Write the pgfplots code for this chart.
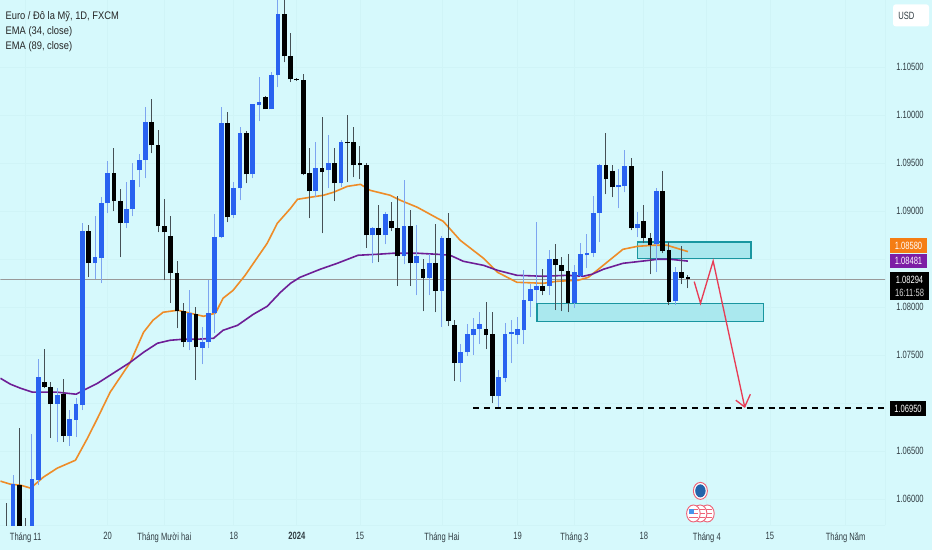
\documentclass[border=0pt]{standalone}
\usepackage{pgfplots}
\usepackage{pgfplotstable}
\usepackage{fontspec}
\pgfplotsset{compat=1.18}
\setmainfont{Liberation Sans}
\newfontfamily\legfont[FakeStretch=0.85]{Liberation Sans}
\newfontfamily\axfont[FakeStretch=0.72]{Liberation Sans}
\definecolor{bgc}{RGB}{214,249,252}
\definecolor{gridc}{RGB}{208,244,247}
\definecolor{upc}{RGB}{41,98,240}
\definecolor{upw}{RGB}{125,165,240}
\definecolor{dnc}{RGB}{0,0,0}
\definecolor{dnw}{RGB}{70,80,85}
\definecolor{ema1}{RGB}{238,140,40}
\definecolor{ema2}{RGB}{110,30,150}
\definecolor{tagO}{RGB}{245,125,20}
\definecolor{tagP}{RGB}{125,30,165}
\definecolor{zonef}{RGB}{170,232,238}
\definecolor{zonee}{RGB}{25,150,160}
\definecolor{redl}{RGB}{232,60,85}
\definecolor{txtc}{RGB}{48,60,66}
\definecolor{eub}{RGB}{35,100,170}
\definecolor{usb}{RGB}{70,150,235}
\pgfplotstableread{
i o h l c
1 1.05677 1.06250 1.05625 1.06156
4 1.05677 1.06677 1.05625 1.06208
5 1.06198 1.07458 1.06146 1.07271
8 1.06990 1.07156 1.06594 1.07083
10 1.06656 1.06927 1.06552 1.06833
11 1.06823 1.07052 1.06646 1.06990
12 1.06979 1.08875 1.06927 1.08792
14 1.08458 1.08948 1.08292 1.08521
15 1.08510 1.09146 1.08250 1.09083
16 1.09083 1.09521 1.08979 1.09396
19 1.08875 1.09302 1.08823 1.09021
20 1.09021 1.09500 1.08948 1.09323
21 1.09427 1.09594 1.09250 1.09531
22 1.09531 1.10083 1.09344 1.09927
29 1.07635 1.08177 1.07552 1.07938
31 1.07573 1.07792 1.07406 1.07635
32 1.07635 1.08281 1.07573 1.07938
33 1.07938 1.08969 1.07729 1.08729
34 1.08729 1.10083 1.08719 1.09917
36 1.08958 1.09302 1.08927 1.09240
37 1.09240 1.09875 1.09115 1.09813
39 1.09385 1.10115 1.09344 1.10115
40 1.10104 1.10396 1.09938 1.10136
42 1.10063 1.10448 1.10063 1.10417
43 1.10417 1.11250 1.10292 1.11052
49 1.09208 1.09719 1.09146 1.09448
51 1.09427 1.09792 1.09240 1.09500
53 1.09292 1.09740 1.09250 1.09719
58 1.08750 1.08833 1.08458 1.08823
60 1.08750 1.08990 1.08656 1.08969
63 1.08531 1.09323 1.08448 1.08844
65 1.08458 1.08854 1.08125 1.08531
67 1.08302 1.08552 1.08125 1.08458
69 1.08167 1.08740 1.07792 1.08719
72 1.07417 1.07615 1.07219 1.07531
73 1.07531 1.07823 1.07490 1.07719
74 1.07708 1.07885 1.07500 1.07771
75 1.07771 1.07948 1.07615 1.07823
78 1.07073 1.07344 1.06958 1.07271
79 1.07260 1.07833 1.07219 1.07719
80 1.07719 1.07865 1.07417 1.07740
81 1.07708 1.07896 1.07615 1.07771
82 1.07760 1.08385 1.07615 1.08073
83 1.08063 1.08240 1.07896 1.08188
84 1.08177 1.08885 1.08042 1.08219
86 1.08219 1.08594 1.08125 1.08500
90 1.08042 1.08437 1.07990 1.08365
91 1.08323 1.08667 1.08313 1.08552
92 1.08542 1.08761 1.08406 1.08563
93 1.08563 1.09156 1.08521 1.08979
94 1.08979 1.09490 1.08677 1.09479
97 1.09250 1.09437 1.09031 1.09271
98 1.09260 1.09635 1.09198 1.09469
100 1.08823 1.08990 1.08729 1.08865
103 1.08656 1.09240 1.08365 1.09208
106 1.08063 1.08417 1.08021 1.08365
}\upT
\pgfplotstableread{
i o h l c
0 1.05677 1.05959 1.05625 1.05573
2 1.06146 1.06740 1.05573 1.05625
3 1.05719 1.05802 1.05625 1.05677
6 1.07219 1.07562 1.07156 1.07167
7 1.07167 1.07219 1.06636 1.06990
9 1.07094 1.07250 1.06594 1.06656
13 1.08792 1.08854 1.08312 1.08458
17 1.09396 1.09656 1.09000 1.09104
18 1.09104 1.09229 1.08521 1.08875
23 1.09927 1.10167 1.09604 1.09688
24 1.09688 1.09844 1.08781 1.08844
25 1.08844 1.09125 1.08281 1.08781
26 1.08740 1.08948 1.08042 1.08354
27 1.08354 1.08479 1.07781 1.07958
28 1.07958 1.08042 1.07583 1.07635
30 1.07927 1.08000 1.07240 1.07583
35 1.09917 1.10031 1.08885 1.08938
38 1.09813 1.09833 1.09292 1.09385
41 1.10188 1.10198 1.10063 1.10063
44 1.11052 1.11250 1.10552 1.10615
45 1.10615 1.10854 1.10344 1.10375
46 1.10380 1.10385 1.10360 1.10365
47 1.10365 1.10427 1.09375 1.09385
48 1.09396 1.09656 1.08927 1.09208
50 1.09448 1.09979 1.08771 1.09406
52 1.09500 1.09656 1.09104 1.09292
54 1.09719 1.10000 1.09302 1.09708
55 1.09719 1.09875 1.09354 1.09479
56 1.09500 1.09677 1.09333 1.09479
57 1.09479 1.09500 1.08615 1.08750
59 1.08823 1.09063 1.08469 1.08750
61 1.08896 1.09094 1.08792 1.08823
62 1.08823 1.09156 1.08219 1.08531
64 1.08844 1.09010 1.08219 1.08458
66 1.08396 1.08500 1.07958 1.08302
68 1.08458 1.08865 1.07948 1.08167
70 1.08719 1.08979 1.07802 1.07854
71 1.07812 1.07865 1.07229 1.07417
76 1.07771 1.08052 1.07562 1.07708
77 1.07719 1.07948 1.07000 1.07073
85 1.08219 1.08396 1.08125 1.08167
87 1.08500 1.08656 1.07969 1.08437
88 1.08437 1.08521 1.07958 1.08375
89 1.08375 1.08552 1.07948 1.08042
95 1.09479 1.09813 1.09177 1.09333
96 1.09417 1.09479 1.09146 1.09250
99 1.09469 1.09552 1.08802 1.08823
101 1.08896 1.09063 1.08667 1.08719
102 1.08719 1.08771 1.08344 1.08646
104 1.09208 1.09417 1.08563 1.08583
105 1.08594 1.08677 1.08021 1.08052
107 1.08365 1.08635 1.08240 1.08302
108 1.08312 1.08333 1.08198 1.08294
}\dnT
\pgfplotstableread{
x y
-1.0 1.07260
0.6 1.07198
2.2 1.07156
4.1 1.07115
5.8 1.07115
8.0 1.07115
11.0 1.07094
12.2 1.07135
14.4 1.07208
16.4 1.07292
19.6 1.07427
21.7 1.07531
23.9 1.07625
25.9 1.07656
28.0 1.07667
30.2 1.07667
32.8 1.07677
34.3 1.07760
36.6 1.07812
39.1 1.07927
41.3 1.08010
43.4 1.08156
45.0 1.08250
46.5 1.08312
49.7 1.08396
52.4 1.08458
55.7 1.08542
58.7 1.08552
61.3 1.08563
65.1 1.08563
68.3 1.08552
70.3 1.08542
72.4 1.08479
75.6 1.08437
77.8 1.08385
80.9 1.08333
85.1 1.08323
88.9 1.08333
91.4 1.08323
92.8 1.08344
94.6 1.08396
97.7 1.08458
102.0 1.08490
103.1 1.08500
105.2 1.08500
108.0 1.08481
}\emaP
\pgfplotstableread{
x y
-1.0 1.06188
0.6 1.06156
2.2 1.06146
3.8 1.06115
5.8 1.06229
8.0 1.06323
10.9 1.06406
12.8 1.06635
14.4 1.06844
16.4 1.07115
19.6 1.07427
21.7 1.07740
23.2 1.07865
24.8 1.07948
27.1 1.07969
29.1 1.07938
31.2 1.07906
33.1 1.07938
34.3 1.08094
35.9 1.08177
37.8 1.08333
41.3 1.08667
42.9 1.08875
45.0 1.09031
46.1 1.09125
48.1 1.09146
50.2 1.09167
51.8 1.09198
54.0 1.09260
56.1 1.09281
57.6 1.09219
60.8 1.09167
62.4 1.09115
65.1 1.09042
68.3 1.08927
69.2 1.08896
71.9 1.08698
75.6 1.08510
77.8 1.08365
80.9 1.08260
85.1 1.08250
87.3 1.08271
90.6 1.08281
92.2 1.08312
93.6 1.08385
97.7 1.08604
100.0 1.08635
102.5 1.08646
104.7 1.08646
108.0 1.08580
}\emaO
\begin{document}
\begin{tikzpicture}
\begin{scope}[x=0.75pt,y=-0.75pt]
\path[use as bounding box] (0,0) rectangle (932,550);
\fill[bgc] (0,0) rectangle (932,550);
\end{scope}
\begin{axis}[
  at={(0pt,-393.75pt)}, anchor=south west,
  scale only axis, width=663.75pt, height=393.75pt,
  xmin=-1.0, xmax=139.25,
  ymin=1.057292, ymax=1.111979,
  axis line style={draw=gridc},
  axis x line*=bottom, axis y line*=right,
  major tick length=0pt,
  grid=major, grid style={gridc, line width=0.6pt},
  xtick={3,16,25,36,46,56,69,81,90,101,111,121,133},
  xticklabels={Tháng 11,20,Tháng Mười hai,18,\textbf{2024},15,Tháng Hai,19,Tháng 3,18,Tháng 4,15,Tháng Năm},
  ytick={1.06,1.065,1.075,1.08,1.09,1.095,1.10,1.105},
  extra y ticks={1.07,1.085},
  extra y tick labels={},
  yticklabel pos=right,
  /pgf/number format/assume math mode=true,
  /pgf/number format/fixed, /pgf/number format/fixed zerofill, /pgf/number format/precision=5,
  scaled y ticks=false,
  tick label style={font=\axfont\fontsize{7.9pt}{9pt}\selectfont, text=txtc},
  yticklabel style={anchor=west, xshift=8.25pt, inner sep=0pt},
  xticklabel style={anchor=north, yshift=-5.25pt, inner sep=0pt},
  every axis plot/.append style={forget plot},
]
% zones
\addplot[draw=zonee, fill=zonef, line width=0.9pt] coordinates {(84.06,1.08038)(120,1.08038)(120,1.07851)(84.06,1.07851)} -- cycle;
\addplot[draw=zonee, fill=zonef, line width=0.9pt] coordinates {(99.95,1.08680)(118,1.08680)(118,1.08507)(99.95,1.08507)} -- cycle;
% last price line
\addplot[color=gray!80, line width=0.6pt] coordinates {(-1,1.08294)(140,1.08294)};
% EMAs
\addplot[ema1, line width=1.2pt, line join=round] table[x=x,y=y] {\emaO};
\addplot[ema2, line width=1.2pt, line join=round] table[x=x,y=y] {\emaP};
% wicks
\addplot[draw=none, mark=none, error bars/.cd, y dir=plus, y explicit, error mark=none, error bar style={upw, line width=0.75pt}]
  table[x=i, y=l, y error plus expr=\thisrow{h}-\thisrow{l}] {\upT};
\addplot[draw=none, mark=none, error bars/.cd, y dir=plus, y explicit, error mark=none, error bar style={dnw, line width=0.75pt}]
  table[x=i, y=l, y error plus expr=\thisrow{h}-\thisrow{l}] {\dnT};
% bodies
\addplot[draw=none, mark=none, error bars/.cd, y dir=plus, y explicit, error mark=none, error bar style={upc, line width=3.6pt}]
  table[x=i, y=o, y error plus expr=\thisrow{c}-\thisrow{o}] {\upT};
\addplot[draw=none, mark=none, error bars/.cd, y dir=plus, y explicit, error mark=none, error bar style={dnc, line width=3.6pt}]
  table[x=i, y=c, y error plus expr=\thisrow{o}-\thisrow{c}] {\dnT};
% target line
\addplot[black, line width=1.1pt, dash pattern=on 4.5pt off 3.7pt] coordinates {(74,1.0695)(140,1.0695)};
% projected path
\addplot[redl, line width=1pt] coordinates {(109,1.08267)(110,1.08042)(112,1.08482)(117,1.06961)};
\addplot[redl, line width=1pt] coordinates {(115.6,1.07031)(117,1.06961)(117.9,1.07094)};
\end{axis}
\begin{scope}[x=0.75pt,y=-0.75pt]
% white USD box
\fill[white, rounded corners=2pt] (893,4) rectangle (929,26);
\node[anchor=west, inner sep=0, text=txtc, font=\axfont\fontsize{7.9pt}{9pt}\selectfont] at (898,15) {USD};
% tags
\fill[tagO] (890,238) rectangle (927,253);
\node[text=white, inner sep=0, font=\axfont\fontsize{7.9pt}{9pt}\selectfont] at (908.5,245.5) {1.08580};
\fill[tagP] (890,254) rectangle (927,268);
\node[text=white, inner sep=0, font=\axfont\fontsize{7.9pt}{9pt}\selectfont] at (908.5,261) {1.08481};
\fill[black] (890,272) rectangle (929,300);
\node[text=white, inner sep=0, font=\axfont\fontsize{7.9pt}{9pt}\selectfont] at (909.5,279.5) {1.08294};
\node[text=white!85!black, inner sep=0, font=\axfont\fontsize{7.9pt}{9pt}\selectfont] at (909.5,292.5) {16:11:58};
\fill[black] (890,401) rectangle (926,416);
\node[text=white, inner sep=0, font=\axfont\fontsize{7.9pt}{9pt}\selectfont] at (908,408.5) {1.06950};
% legend
\node[anchor=west, inner sep=0, text=black!85, font=\legfont\fontsize{8.25pt}{10pt}\selectfont] at (5,16.5) {Euro / Đô la Mỹ, 1D, FXCM};
\node[anchor=west, inner sep=0, text=black!85, font=\legfont\fontsize{8.25pt}{10pt}\selectfont] at (5,31.5) {EMA (34, close)};
\node[anchor=west, inner sep=0, text=black!85, font=\legfont\fontsize{8.25pt}{10pt}\selectfont] at (5,46.5) {EMA (89, close)};
% event icons
\draw[redl!80, fill=white, line width=0.7pt] (700.3,490.7) ellipse (7 and 8.5);
\fill[eub] (700.3,490.7) ellipse (5.2 and 6.5);
\foreach \cx in {707.3,700,693.3}{
  \draw[redl!80, fill=white, line width=0.7pt] (\cx,513.3) ellipse (6.8 and 8.5);
  \foreach \dy in {-4,0,4}{\draw[redl!80, line width=0.8pt] (\cx-4.5,513.3+\dy) -- (\cx+4.5,513.3+\dy);}
}
\fill[usb] (689,508.5) rectangle (694,513.5);
\end{scope}
\end{tikzpicture}
\end{document}
